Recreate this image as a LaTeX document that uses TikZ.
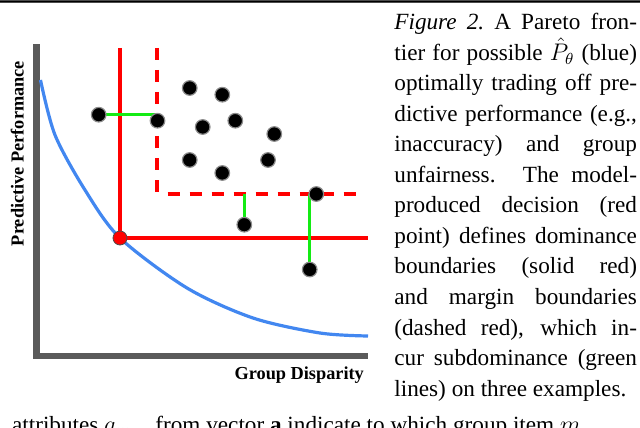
\documentclass[tikz,border=0pt]{standalone}
\usepackage{fontspec}
\setmainfont{Liberation Serif}
\definecolor{axisgray}{RGB}{90,90,90}
\definecolor{frontblue}{RGB}{66,135,240}
\definecolor{subgreen}{RGB}{20,235,20}
\definecolor{domred}{RGB}{255,0,0}
\begin{document}
\begin{tikzpicture}[x=0.5pt,y=-0.5pt,
  axisbar/.style={fill=axisgray},
  frontier/.style={draw=frontblue,line width=1.6pt},
  dominance/.style={draw=domred,line width=1.55pt},
  marginline/.style={draw=domred,line width=1.55pt,dash pattern=on 6pt off 5pt},
  subdom/.style={draw=subgreen,line width=1.65pt},
  sample/.style={circle,fill=black,draw=black!45,line width=0.6pt,minimum size=7.3pt,inner sep=0pt},
  decision/.style={circle,fill=domred,draw=black!70,line width=0.4pt,minimum size=7pt,inner sep=0pt},
  axislabel/.style={font=\fontsize{9.15}{11}\selectfont\bfseries,inner sep=0pt},
  captiontext/.style={font=\fontsize{11.6}{15.25}\selectfont,inner sep=0pt}]
\useasboundingbox (0,0) rectangle (640,427);
\begin{scope}
\clip (0,0) rectangle (640,427);
% top rule
\fill[black!70] (0,0) rectangle (640,3.4);
\draw[black,line width=0.5pt] (0,1.7) -- (640,1.7);
% axes
\fill[axisbar] (33.3,44.3) rectangle (40,359.3);
\fill[axisbar] (33.3,353.3) rectangle (367.7,359.3);
% frontier
\draw[frontier] plot[smooth] coordinates {(40.5,80) (55,135) (85,190) (120,238) (187,288) (253,318) (320,333) (368,336)};
% coordinates
\coordinate (dec) at (120,238);
\coordinate (domtop) at (120,48);
\coordinate (domright) at (368,238);
\coordinate (martop) at (157,48);
\coordinate (marcorner) at (157,194);
\coordinate (marstart) at (167.7,194);
\coordinate (marright) at (363,194);
\coordinate (p1) at (98.7,114.7);
\coordinate (p2) at (157.5,120.7);
\coordinate (p3) at (189.7,88);
\coordinate (p4) at (222.3,94.7);
\coordinate (p5) at (202.7,127);
\coordinate (p6) at (235.3,120.7);
\coordinate (p7) at (274.3,134);
\coordinate (p8) at (189.7,160);
\coordinate (p9) at (222.3,173);
\coordinate (p10) at (268,160);
\coordinate (p11) at (316.3,194);
\coordinate (p12) at (244.3,224.7);
\coordinate (p13) at (309.7,269.5);
\coordinate (g1) at (157,114.7);
\coordinate (g2) at (244.3,194);
\coordinate (g3) at (309.7,194);
% dominance boundaries
\draw[dominance] (domtop) -- (dec);
\draw[dominance] (dec) -- (domright);
% margin boundaries
\draw[marginline] (martop) -- (marcorner);
\draw[marginline] (marstart) -- (marright);
% subdominance
\draw[subdom] (p1) -- (g1);
\draw[subdom] (p12) -- (g2);
\draw[subdom] (p13) -- (g3);
% samples
\foreach \i in {1,...,13} {\node[sample] (s\i) at (p\i) {};}
% decision point
\node[decision] (decpt) at (dec) {};
% axis labels
\node[axislabel,rotate=90,anchor=base] (ylab) at (23.5,153.5) {Predictive Performance};
\node[axislabel,anchor=base east] (xlab) at (364.3,379) {Group Disparity};
% caption
\node[captiontext,anchor=base west] (caption) at (394,30) {\begin{minipage}[t]{121.3pt}\tolerance=10000\hbadness=10000
{\itshape Figure 2.}\ A Pareto fron-\linebreak tier for possible $\hat{P}_\theta$ (blue)\linebreak optimally trading off pre-\linebreak dictive performance (e.g.,\linebreak inaccuracy) and group\linebreak unfairness. The model-\linebreak produced decision (red\linebreak point) defines dominance\linebreak boundaries (solid red)\linebreak and margin boundaries\linebreak (dashed red), which in-\linebreak cur subdominance (green\linebreak lines) on three examples.\end{minipage}};
% running text below (cut by page edge)
\node[captiontext,anchor=base west] (body1) at (11.7,432) {attributes $a_m$};
\node[captiontext,anchor=base west] (body2) at (155,432) {from vector \textbf{a} indicate to which group item $m$};
\end{scope}
\end{tikzpicture}
\end{document}
